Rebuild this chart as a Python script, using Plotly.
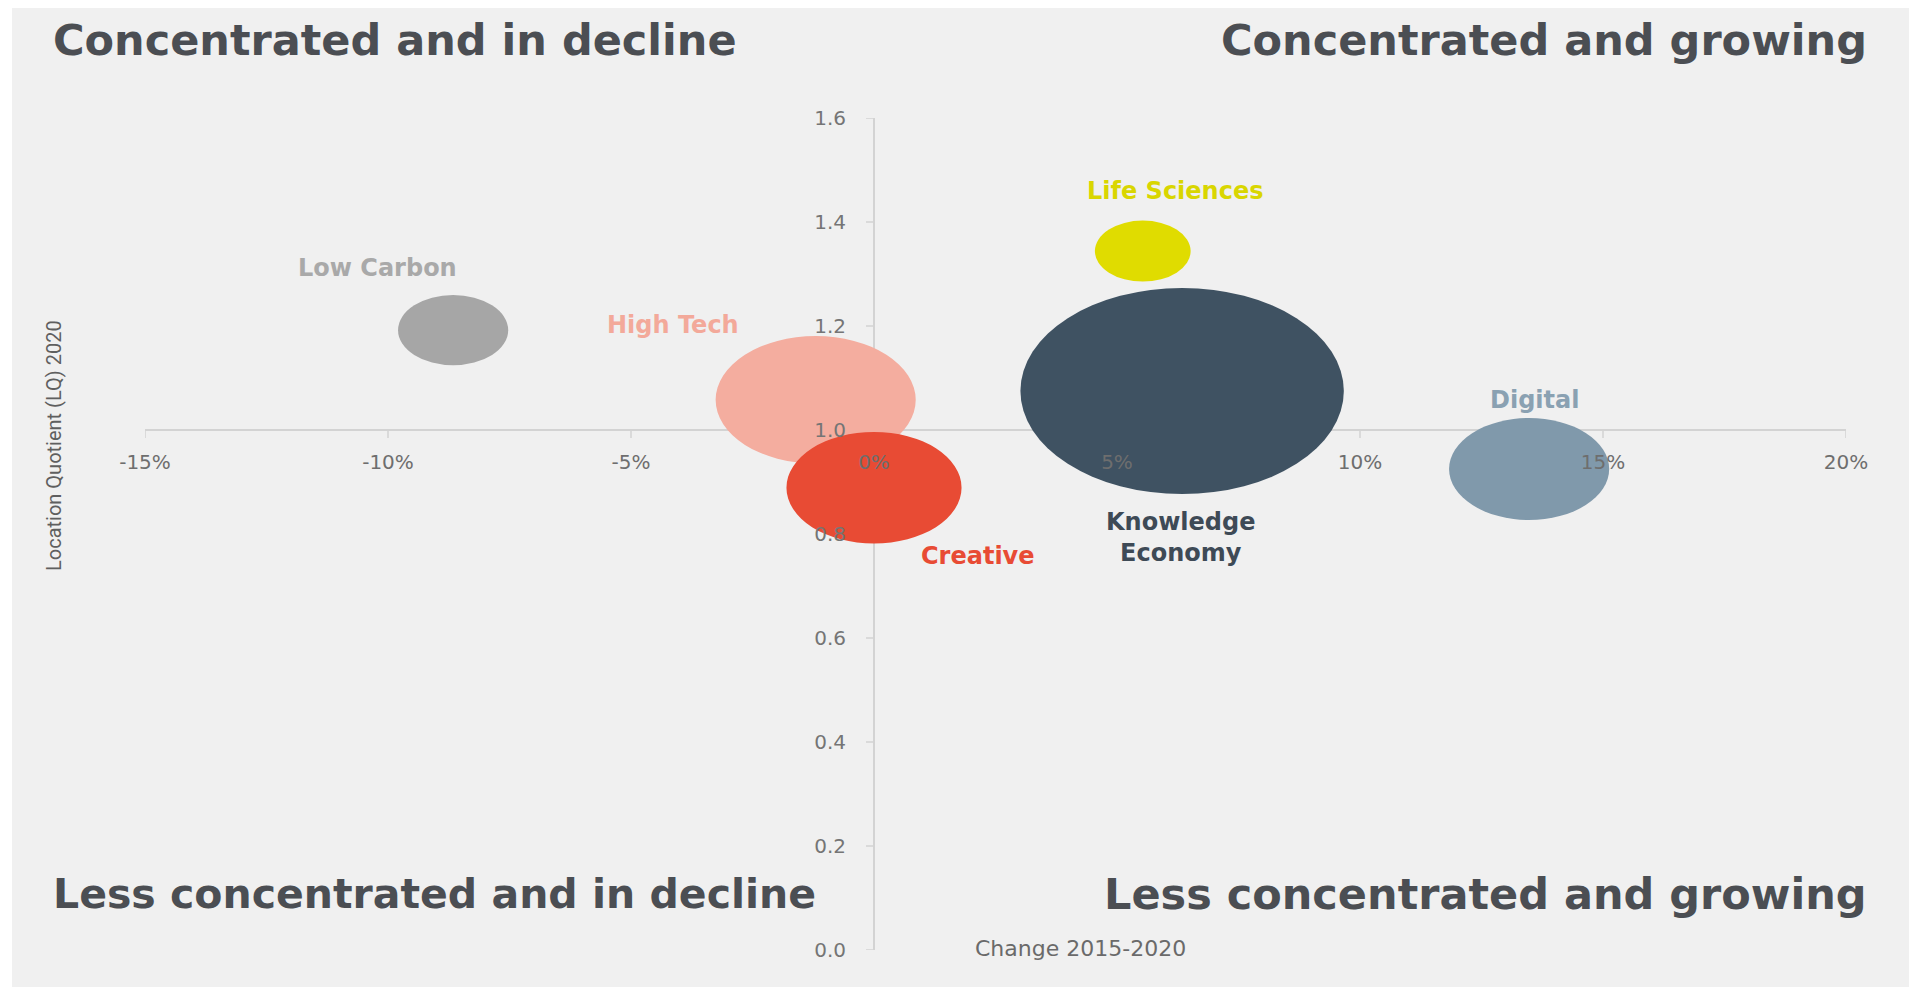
import math
import plotly.graph_objects as go

# ---------------- data ----------------
sectors = ["Low Carbon", "High Tech", "Creative", "Life Sciences", "Knowledge Economy", "Digital"]
label_text = ["Low Carbon", "High Tech", "Creative", "Life Sciences", "Knowledge<br>Economy", "Digital"]
change_2015_2020 = [-8.66, -1.20, 0.0, 5.53, 6.34, 13.48]      # % change in employment
lq_2020 = [1.192, 1.058, 0.889, 1.344, 1.075, 0.925]            # location quotient
bubble_size = [12.3, 40.6, 31.1, 9.3, 106.1, 26.0]              # relative sector size

x_tick_values = [-15, -10, -5, 0, 5, 10, 15, 20]
x_tick_labels = ["-15%", "-10%", "-5%", "0%", "5%", "10%", "15%", "20%"]
y_tick_values = [0.0, 0.2, 0.4, 0.6, 0.8, 1.0, 1.2, 1.4, 1.6]
y_tick_labels = ["0.0", "0.2", "0.4", "0.6", "0.8", "1.0", "1.2", "1.4", "1.6"]

quadrant_titles = ["Concentrated and in decline", "Concentrated and growing",
                   "Less concentrated and in decline", "Less concentrated and growing"]
y_title = "Location Quotient (LQ) 2020"
x_title = "Change 2015-2020"

# ---------------- styles / geometry ----------------
bubble_colors = ["#a6a6a6", "#f4ad9f", "#e84b34", "#e0dc00", "#3f5262", "#8099ab"]
label_colors = ["#a9a9a9", "#f3a99a", "#e84b34", "#d9d600", "#3e4a56", "#8aa1b2"]
label_offsets = [(-76, 62), (-143, 75), (104, -68), (32, 60), (-2, -146), (5, 69)]

W, H = 1909, 987
PL, PR, PT, PB = 145, 1846, 118, 950
x_range = [x_tick_values[0], x_tick_values[-1]]
y_range = [y_tick_values[0], y_tick_values[-1]]
px_per_x = (PR - PL) / (x_range[1] - x_range[0])
px_per_y = (PB - PT) / (y_range[1] - y_range[0])
RADIUS_PX = 10.0       # vertical radius in px per sqrt(size)
H_STRETCH = 1.57       # bubbles are horizontally stretched ellipses
CROSS_X, CROSS_Y = 0.0, 1.0
TICK_LEN = 8

AXIS_COL = "#d3d3d3"
TEXT_DARK = "#4b4e53"


def px_to_paper_x(px):
    return (px - PL) / (PR - PL)


def px_to_paper_y(py):
    return (PB - py) / (PB - PT)


fig = go.Figure()

# invisible hover points at bubble centres
fig.add_trace(go.Scatter(
    x=change_2015_2020, y=lq_2020, mode="markers",
    marker=dict(size=[2 * RADIUS_PX * math.sqrt(s) for s in bubble_size], opacity=0),
    text=sectors, hovertemplate="%{text}<br>%{x:.1f}%<br>LQ %{y:.2f}<extra></extra>",
    showlegend=False,
))

shapes = []
# page background with white margin at top/left
shapes.append(dict(type="rect", xref="paper", yref="paper", layer="below",
                   x0=px_to_paper_x(12), x1=px_to_paper_x(W + 5),
                   y0=px_to_paper_y(H + 5), y1=px_to_paper_y(8),
                   fillcolor="#f0f0f0", line=dict(width=0)))
# axis lines crossing at (0%, 1.0), drawn beneath the bubbles
axis_line = dict(color=AXIS_COL, width=2)
shapes.append(dict(type="line", xref="x", yref="y", layer="below",
                   x0=x_range[0], x1=x_range[1], y0=CROSS_Y, y1=CROSS_Y, line=axis_line))
shapes.append(dict(type="line", xref="x", yref="y", layer="below",
                   x0=CROSS_X, x1=CROSS_X, y0=y_range[0], y1=y_range[1], line=axis_line))
tick_line = dict(color=AXIS_COL, width=1.5)
for xv in x_tick_values:
    shapes.append(dict(type="line", xref="x", yref="y", layer="below",
                       x0=xv, x1=xv, y0=CROSS_Y, y1=CROSS_Y - TICK_LEN / px_per_y, line=tick_line))
for yv in y_tick_values:
    shapes.append(dict(type="line", xref="x", yref="y", layer="below",
                       x0=CROSS_X, x1=CROSS_X - TICK_LEN / px_per_x, y0=yv, y1=yv, line=tick_line))

annotations = []
for name, lab, x, y, s, col, lcol, (dx, dy) in zip(sectors, label_text, change_2015_2020, lq_2020,
                                                    bubble_size, bubble_colors, label_colors, label_offsets):
    ry_px = RADIUS_PX * math.sqrt(s)
    rx_px = ry_px * H_STRETCH
    rx = rx_px / px_per_x
    ry = ry_px / px_per_y
    shapes.append(dict(type="circle", xref="x", yref="y", layer="below",
                       x0=x - rx, x1=x + rx, y0=y - ry, y1=y + ry,
                       fillcolor=col, line=dict(width=0)))
    annotations.append(dict(x=x, y=y, xref="x", yref="y", text="<b>" + lab + "</b>",
                            showarrow=False, xshift=dx, yshift=dy,
                            xanchor="center", yanchor="middle",
                            font=dict(family="DejaVu Sans", size=24, color=lcol)))

# quadrant headings
head_font = dict(family="DejaVu Sans", size=43, color=TEXT_DARK)
annotations += [
    dict(x=px_to_paper_x(51), y=px_to_paper_y(40), xref="paper", yref="paper",
         text="<b>" + quadrant_titles[0] + "</b>", showarrow=False,
         xanchor="left", yanchor="middle", font=head_font),
    dict(x=px_to_paper_x(1869), y=px_to_paper_y(40), xref="paper", yref="paper",
         text="<b>" + quadrant_titles[1] + "</b>", showarrow=False,
         xanchor="right", yanchor="middle", font=head_font),
    dict(x=px_to_paper_x(51), y=px_to_paper_y(894), xref="paper", yref="paper",
         text="<b>" + quadrant_titles[2] + "</b>", showarrow=False,
         xanchor="left", yanchor="middle", font=dict(head_font, size=41)),
    dict(x=px_to_paper_x(1869), y=px_to_paper_y(894), xref="paper", yref="paper",
         text="<b>" + quadrant_titles[3] + "</b>", showarrow=False,
         xanchor="right", yanchor="middle", font=head_font),
    dict(x=px_to_paper_x(54), y=px_to_paper_y(446), xref="paper", yref="paper",
         text=y_title, showarrow=False, textangle=-90,
         xanchor="center", yanchor="middle",
         font=dict(family="Roboto", size=20, color="#5f5f5f")),
    dict(x=px_to_paper_x(1080), y=px_to_paper_y(948), xref="paper", yref="paper",
         text=x_title, showarrow=False, xanchor="center", yanchor="middle",
         font=dict(family="DejaVu Sans", size=22, color="#6a6a6a")),
]

x_tick_font = dict(family="DejaVu Sans", size=20, color="#6e6e6e")
y_tick_font = dict(family="DejaVu Sans", size=20, color="#757575")
fig.update_layout(
    width=W, height=H,
    margin=dict(l=PL, r=W - PR, t=PT, b=H - PB, pad=0),
    paper_bgcolor="#ffffff", plot_bgcolor="rgba(0,0,0,0)",
    showlegend=False,
    shapes=shapes, annotations=annotations,
    xaxis=dict(range=x_range, anchor="free",
               position=(CROSS_Y - y_range[0]) / (y_range[1] - y_range[0]),
               showline=False, showgrid=False, zeroline=False,
               tickmode="array", tickvals=x_tick_values, ticktext=x_tick_labels,
               ticks="", tickfont=x_tick_font, ticklabelstandoff=18, fixedrange=True),
    yaxis=dict(range=y_range, anchor="free",
               position=(CROSS_X - x_range[0]) / (x_range[1] - x_range[0]),
               showline=False, showgrid=False, zeroline=False,
               tickmode="array", tickvals=y_tick_values, ticktext=y_tick_labels,
               ticks="", tickfont=y_tick_font, ticklabelstandoff=28, fixedrange=True),
)

fig.write_html("out.html", config={"displayModeBar": False},
               post_script="document.body.style.margin='0px';document.body.style.overflow='hidden';")
